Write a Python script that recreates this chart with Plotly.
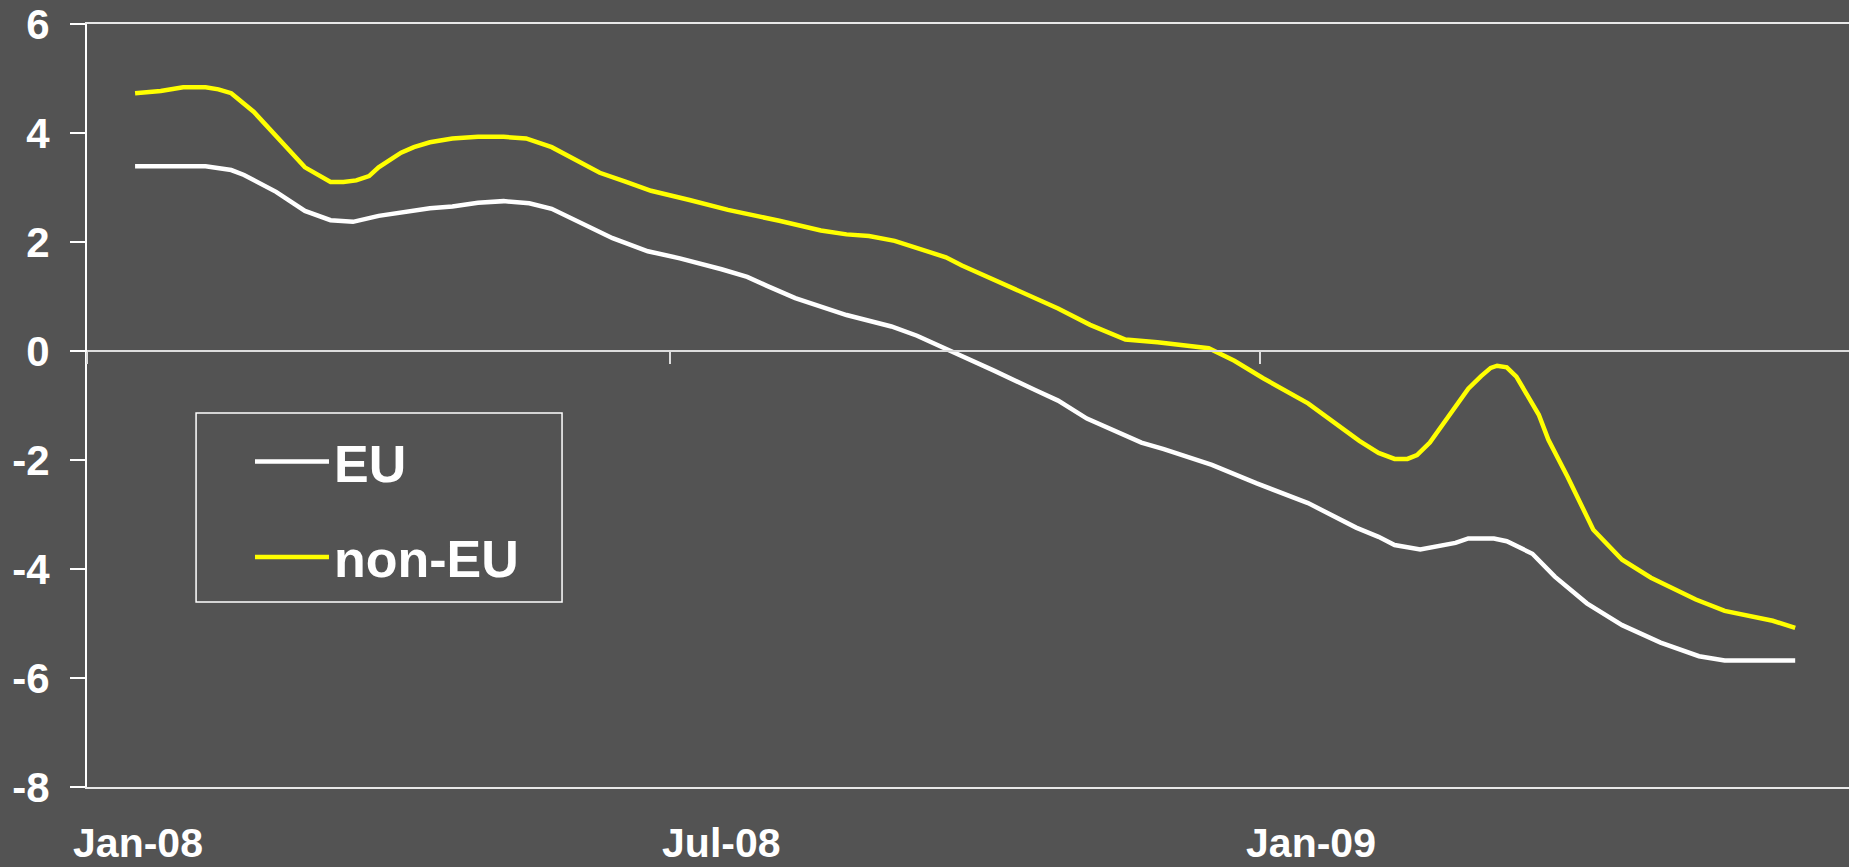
import plotly.graph_objects as go

# ---- data ----
eu_dates = ["2008-01-16", "2008-02-07", "2008-02-15", "2008-02-19", "2008-02-29", "2008-03-09",
            "2008-03-17", "2008-03-24", "2008-04-01", "2008-04-17", "2008-04-24", "2008-05-02",
            "2008-05-10", "2008-05-18", "2008-05-25", "2008-06-02", "2008-06-09", "2008-06-13",
            "2008-06-24", "2008-07-04", "2008-07-17", "2008-07-25", "2008-07-31", "2008-08-09",
            "2008-08-25", "2008-09-08", "2008-09-16", "2008-09-27", "2008-10-10", "2008-10-23",
            "2008-10-30", "2008-11-08", "2008-11-17", "2008-11-25", "2008-12-02", "2008-12-17",
            "2008-12-31", "2009-01-16", "2009-01-31", "2009-02-07", "2009-02-12", "2009-02-20",
            "2009-03-03", "2009-03-07", "2009-03-15", "2009-03-19", "2009-03-27", "2009-04-03",
            "2009-04-13", "2009-04-24", "2009-05-06", "2009-05-18", "2009-05-26", "2009-06-17"]
eu_values = [3.39, 3.39, 3.32, 3.23, 2.92, 2.57, 2.40, 2.37, 2.48, 2.62, 2.65, 2.72,
             2.75, 2.71, 2.61, 2.39, 2.18, 2.07, 1.83, 1.70, 1.50, 1.36, 1.20, 0.97,
             0.66, 0.45, 0.28, -0.01, -0.36, -0.72, -0.91, -1.24, -1.48, -1.68, -1.80, -2.09,
             -2.43, -2.79, -3.24, -3.41, -3.56, -3.64, -3.52, -3.44, -3.44, -3.49, -3.72, -4.14,
             -4.63, -5.03, -5.35, -5.60, -5.68, -5.68]

noneu_dates = ["2008-01-16", "2008-01-24", "2008-01-31", "2008-02-07", "2008-02-11", "2008-02-15",
               "2008-02-22", "2008-03-01", "2008-03-09", "2008-03-17", "2008-03-21", "2008-03-25",
               "2008-03-29", "2008-04-01", "2008-04-08", "2008-04-12", "2008-04-17", "2008-04-24",
               "2008-05-02", "2008-05-10", "2008-05-17", "2008-05-25", "2008-06-02", "2008-06-09",
               "2008-06-17", "2008-06-25", "2008-07-07", "2008-07-19", "2008-08-04", "2008-08-17",
               "2008-08-25", "2008-09-01", "2008-09-09", "2008-09-17", "2008-09-25", "2008-09-30",
               "2008-10-15", "2008-10-24", "2008-10-30", "2008-11-09", "2008-11-20", "2008-11-30",
               "2008-12-12", "2008-12-16", "2008-12-24", "2009-01-02", "2009-01-16", "2009-01-24",
               "2009-02-01", "2009-02-07", "2009-02-12", "2009-02-16", "2009-02-19", "2009-02-23",
               "2009-03-03", "2009-03-07", "2009-03-11", "2009-03-14", "2009-03-16", "2009-03-19",
               "2009-03-22", "2009-03-29", "2009-04-01", "2009-04-07", "2009-04-15", "2009-04-24",
               "2009-05-03", "2009-05-17", "2009-05-26", "2009-06-04", "2009-06-10", "2009-06-17"]
noneu_values = [4.73, 4.77, 4.84, 4.84, 4.80, 4.73, 4.39, 3.87, 3.37, 3.10, 3.10, 3.13,
                3.21, 3.37, 3.64, 3.74, 3.83, 3.90, 3.93, 3.93, 3.90, 3.74, 3.49, 3.27,
                3.11, 2.94, 2.77, 2.59, 2.39, 2.21, 2.14, 2.11, 2.02, 1.88, 1.72, 1.57,
                1.18, 0.94, 0.78, 0.48, 0.21, 0.16, 0.09, 0.05, -0.18, -0.50, -0.96, -1.30,
                -1.65, -1.87, -1.98, -1.98, -1.91, -1.68, -1.02, -0.69, -0.46, -0.31, -0.27, -0.30,
                -0.47, -1.17, -1.63, -2.31, -3.28, -3.83, -4.16, -4.56, -4.77, -4.88, -4.95, -5.08]

series_names = ["EU", "non-EU"]
x_tick_vals = ["2008-01-01", "2008-07-01", "2009-01-01"]
x_tick_text = ["Jan-08", "Jul-08", "Jan-09"]
y_tick_vals = [-8, -6, -4, -2, 0, 2, 4, 6]
y_tick_text = ["-8", "-6", "-4", "-2", "0", "2", "4", "6"]

# ---- styling ----
BG = "#535353"
FONT = "Liberation Sans, Arial, sans-serif"
X_RANGE = ["2008-01-01", "2009-07-03 19:00"]

fig = go.Figure()
fig.add_trace(go.Scatter(x=eu_dates, y=eu_values, name=series_names[0], mode="lines",
                         line=dict(color="#ffffff", width=4.5), xaxis="x2",
                         legendgroup="g1"))
fig.add_trace(go.Scatter(x=noneu_dates, y=noneu_values, name=series_names[1], mode="lines",
                         line=dict(color="#ffff00", width=4.5),
                         legendgroup="g2"))

fig.update_layout(
    width=1849, height=867,
    paper_bgcolor=BG, plot_bgcolor=BG,
    margin=dict(l=87, r=0, t=24, b=80, autoexpand=False),
    font=dict(family=FONT, color="white", weight="bold"),
    showlegend=True,
    legend=dict(x=0.0925, y=0.4795, xanchor="left", yanchor="top",
                bgcolor="rgba(0,0,0,0)", borderwidth=0,
                font=dict(size=52, family=FONT, color="white", weight="bold"),
                itemwidth=74, tracegroupgap=25),
    xaxis=dict(type="date", range=X_RANGE, tickvals=x_tick_vals, ticktext=x_tick_text,
               ticks="", showline=True, mirror=True, linecolor="#e8e8e8", linewidth=2,
               showgrid=False, zeroline=False, automargin=False,
               tickfont=dict(size=41, family=FONT, color="white", weight="bold"),
               ticklabelshift=51, ticklabelstandoff=19),
    xaxis2=dict(type="date", matches="x", overlaying="x", anchor="free", position=8 / 14,
                tickvals=x_tick_vals, ticks="outside", ticklen=12, tickwidth=1.5,
                tickcolor="#dddddd", showline=True, linecolor="#dddddd", linewidth=1.5,
                showticklabels=False, showgrid=False, zeroline=False),
    yaxis=dict(range=[-8, 6], tickvals=y_tick_vals, ticktext=y_tick_text,
               ticks="outside", ticklen=15, tickwidth=1.5, tickcolor="white",
               showline=True, linecolor="white", linewidth=2,
               showgrid=False, zeroline=False, automargin=False,
               tickfont=dict(size=42, family=FONT, color="white", weight="bold"),
               ticklabelstandoff=12),
    shapes=[dict(type="rect", xref="paper", yref="paper",
                 x0=0.0619, x1=0.2696, y0=0.2425, y1=0.4902,
                 line=dict(color="white", width=1.5), fillcolor="rgba(0,0,0,0)", layer="below")],
)

fig.write_html("out.html", config={"displayModeBar": False},
               post_script="document.body.style.margin='0';document.body.style.overflow='hidden';")
